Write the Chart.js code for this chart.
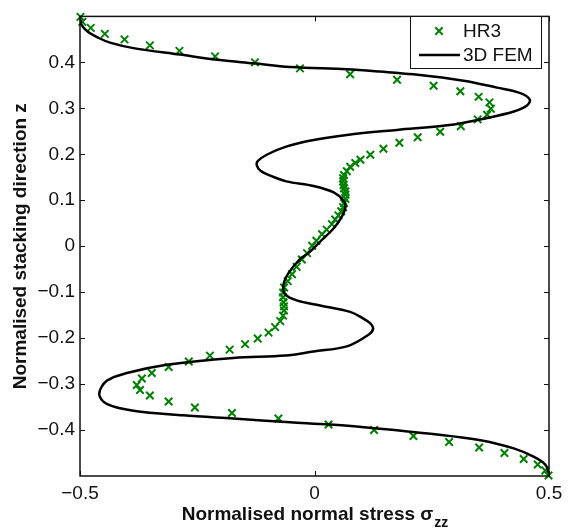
<!DOCTYPE html>
<html>
<head>
<meta charset="utf-8">
<script src="https://cdn.jsdelivr.net/npm/chart.js@4.4.1/dist/chart.umd.min.js"></script>
<style>
  html, body { margin: 0; padding: 0; background: #fff; }
  #wrap { width: 569px; height: 531px; }
</style>
</head>
<body>
<div id="wrap"><canvas id="stressChart" width="569" height="531"></canvas></div>
<script>
// stress through the stacking direction

// HR3 model (markers)
let hr3Stress = [-0.499, -0.495, -0.477, -0.447, -0.405, -0.351, -0.288, -0.212, -0.127, -0.031,
    0.076, 0.176, 0.254, 0.311, 0.350, 0.373, 0.376, 0.368, 0.348, 0.312,
    0.268, 0.220, 0.181, 0.147, 0.119, 0.098, 0.087, 0.076, 0.069, 0.063,
    0.061, 0.061, 0.062, 0.063, 0.066, 0.066, 0.066, 0.063, 0.061, 0.057,
    0.051, 0.044, 0.037, 0.026, 0.016, 0.004, -0.005, -0.016, -0.027, -0.038,
    -0.048, -0.057, -0.065, -0.067, -0.067, -0.066, -0.065, -0.065, -0.067, -0.073,
    -0.084, -0.098, -0.121, -0.148, -0.181, -0.223, -0.268, -0.311, -0.347, -0.368,
    -0.379, -0.372, -0.351, -0.311, -0.255, -0.176, -0.077, 0.030, 0.127, 0.211,
    0.287, 0.351, 0.405, 0.446, 0.476, 0.492, 0.499];
let hr3Z = [0.499, 0.488, 0.475, 0.462, 0.450, 0.437, 0.425, 0.413, 0.400, 0.387,
    0.374, 0.362, 0.349, 0.337, 0.325, 0.313, 0.299, 0.286, 0.276, 0.261,
    0.249, 0.237, 0.225, 0.212, 0.199, 0.188, 0.181, 0.173, 0.163, 0.155,
    0.148, 0.141, 0.133, 0.126, 0.119, 0.112, 0.103, 0.094, 0.085, 0.076,
    0.067, 0.058, 0.048, 0.036, 0.026, 0.012, 0.001, -0.015, -0.029, -0.045,
    -0.061, -0.076, -0.090, -0.101, -0.111, -0.122, -0.131, -0.140, -0.151, -0.163,
    -0.176, -0.188, -0.201, -0.213, -0.225, -0.238, -0.251, -0.263, -0.276, -0.288,
    -0.302, -0.313, -0.325, -0.338, -0.351, -0.363, -0.375, -0.388, -0.400, -0.413,
    -0.426, -0.438, -0.450, -0.463, -0.475, -0.488, -0.499];

// 3D FEM (solid line), ordered top to bottom
let femStress = [-0.500, -0.497, -0.484, -0.460, -0.436, -0.386, -0.287, -0.201, -0.130, -0.052,
    0.069, 0.140, 0.211, 0.318, 0.389, 0.439, 0.459, 0.453, 0.425, 0.368,
    0.283, 0.176, 0.069, -0.002, -0.062, -0.102, -0.121, -0.123, -0.115, -0.098,
    -0.060, -0.002, 0.041, 0.062, 0.066, 0.058, 0.041, 0.012, -0.013, -0.031,
    -0.055, -0.066, -0.063, -0.038, 0.012, 0.076, 0.100, 0.119, 0.125, 0.116,
    0.069, -0.002, -0.062, -0.173, -0.315, -0.400, -0.443, -0.459, -0.443, -0.386,
    -0.280, -0.173, -0.052, 0.033, 0.140, 0.247, 0.354, 0.425, 0.467, 0.492,
    0.500];
let femZ = [0.496, 0.482, 0.467, 0.453, 0.443, 0.431, 0.417, 0.405, 0.398, 0.390,
    0.385, 0.380, 0.374, 0.360, 0.345, 0.333, 0.319, 0.306, 0.293, 0.279,
    0.263, 0.253, 0.242, 0.231, 0.216, 0.199, 0.185, 0.176, 0.164, 0.155,
    0.141, 0.131, 0.117, 0.099, 0.085, 0.064, 0.039, 0.010, -0.015, -0.028,
    -0.058, -0.083, -0.104, -0.118, -0.129, -0.143, -0.155, -0.168, -0.179, -0.192,
    -0.218, -0.229, -0.238, -0.243, -0.258, -0.276, -0.293, -0.322, -0.343, -0.358,
    -0.368, -0.375, -0.383, -0.388, -0.397, -0.408, -0.422, -0.440, -0.458, -0.475,
    -0.493];

let xTicks = [-0.5, 0, 0.5];
let zTicks = [-0.4, -0.3, -0.2, -0.1, 0, 0.1, 0.2, 0.3, 0.4];

let seriesNames = ["HR3", "3D FEM"];

const FONT = "'Liberation Sans', Arial, Helvetica, sans-serif";
const GREEN = "#008000";
const INK = "#111111";

function toPoints(xs, ys){
    let pts = [];
    for(let i=0; i<xs.length; i++){
        pts.push({ x: xs[i], y: ys[i] });
    }
    return pts;
}

function tickText(v){
    if(Math.abs(v) < 1e-9) return "0";
    return v.toFixed(1).replace("-", "\u2212");
}

// box, inward ticks, legend and x label (with subscript)
let matlabFrame = {
    id: "matlabFrame",
    afterDatasetsDraw(chart){
        let ctx = chart.ctx;
        let a = chart.chartArea;
        let xs = chart.scales.x;
        let ys = chart.scales.y;
        let tl = 5;

        ctx.save();
        ctx.strokeStyle = INK;
        ctx.lineWidth = 1;

        ctx.beginPath();
        xTicks.forEach(function(v){
            let px = Math.round(xs.getPixelForValue(v)) + 0.5;
            ctx.moveTo(px, a.bottom); ctx.lineTo(px, a.bottom - tl);
            ctx.moveTo(px, a.top); ctx.lineTo(px, a.top + tl);
        });
        zTicks.forEach(function(v){
            let py = Math.round(ys.getPixelForValue(v)) + 0.5;
            ctx.moveTo(a.left, py); ctx.lineTo(a.left + tl, py);
            ctx.moveTo(a.right, py); ctx.lineTo(a.right - tl, py);
        });
        ctx.stroke();

        ctx.lineWidth = 1.5;
        ctx.strokeRect(a.left, a.top, a.right - a.left, a.bottom - a.top);

        // legend
        let lx = 410.5, ly = 16.5, lw = 131, lh = 52;
        ctx.fillStyle = "#fff";
        ctx.fillRect(lx, ly, lw, lh);
        ctx.lineWidth = 1;
        ctx.strokeStyle = INK;
        ctx.strokeRect(lx, ly, lw, lh);

        let mx = 439, my = 31, r = 3.7;
        ctx.strokeStyle = GREEN;
        ctx.lineWidth = 2;
        ctx.beginPath();
        ctx.moveTo(mx - r, my - r); ctx.lineTo(mx + r, my + r);
        ctx.moveTo(mx - r, my + r); ctx.lineTo(mx + r, my - r);
        ctx.stroke();

        ctx.strokeStyle = "#000";
        ctx.lineWidth = 2.5;
        ctx.beginPath();
        ctx.moveTo(419, 55); ctx.lineTo(460, 55);
        ctx.stroke();

        ctx.fillStyle = INK;
        ctx.font = "19px " + FONT;
        ctx.textBaseline = "middle";
        ctx.textAlign = "left";
        ctx.fillText(seriesNames[0], 463, 32);
        ctx.fillText(seriesNames[1], 463, 56);

        // x axis title with subscript zz
        let main = "Normalised normal stress \u03c3";
        let sub = "zz";
        ctx.font = "bold 19px " + FONT;
        let w1 = ctx.measureText(main).width;
        ctx.font = "bold 14px " + FONT;
        let w2 = ctx.measureText(sub).width;
        let cx = (a.left + a.right) / 2;
        let x0 = cx - (w1 + w2) / 2;
        ctx.textBaseline = "alphabetic";
        ctx.font = "bold 19px " + FONT;
        ctx.fillText(main, x0, 520);
        ctx.font = "bold 14px " + FONT;
        ctx.fillText(sub, x0 + w1 + 1, 527);

        ctx.restore();
    }
};

let ctx = document.getElementById("stressChart").getContext("2d");

let stressChart = new Chart(ctx, {
    type: "scatter",
    data: {
        datasets: [
            {
                label: seriesNames[1],
                data: toPoints(femStress, femZ),
                showLine: true,
                borderColor: "#000",
                borderWidth: 2.5,
                pointRadius: 0,
                tension: 0.35,
                fill: false,
                order: 0
            },
            {
                label: seriesNames[0],
                data: toPoints(hr3Stress, hr3Z),
                showLine: false,
                pointStyle: "crossRot",
                pointRadius: 5.3,
                pointBorderWidth: 2,
                borderColor: GREEN,
                backgroundColor: GREEN,
                clip: false,
                order: 1
            }
        ]
    },
    options: {
        responsive: false,
        animation: false,
        layout: { padding: { top: 10, right: 20, left: 0, bottom: 0 } },
        plugins: {
            legend: { display: false },
            tooltip: { enabled: false }
        },
        scales: {
            x: {
                type: "linear",
                min: -0.5,
                max: 0.5,
                afterBuildTicks: function(scale){
                    scale.ticks = xTicks.map(function(v){ return { value: v }; });
                },
                afterFit: function(scale){ scale.height = 55; },
                grid: { display: false, drawTicks: false },
                border: { display: false },
                ticks: {
                    padding: 6,
                    maxRotation: 0,
                    color: INK,
                    font: { family: FONT, size: 19 },
                    callback: function(v){ return tickText(v); }
                }
            },
            y: {
                type: "linear",
                min: -0.5,
                max: 0.5,
                afterBuildTicks: function(scale){
                    scale.ticks = zTicks.map(function(v){ return { value: v }; });
                },
                afterFit: function(scale){ scale.width = 80; },
                grid: { display: false, drawTicks: false },
                border: { display: false },
                ticks: {
                    padding: 5,
                    color: INK,
                    font: { family: FONT, size: 19 },
                    callback: function(v){ return tickText(v); }
                },
                title: {
                    display: true,
                    text: "Normalised stacking direction z",
                    color: INK,
                    padding: { top: 9, bottom: 0 },
                    font: { family: FONT, size: 19, weight: "bold" }
                }
            }
        }
    },
    plugins: [matlabFrame]
});
</script>
</body>
</html>
